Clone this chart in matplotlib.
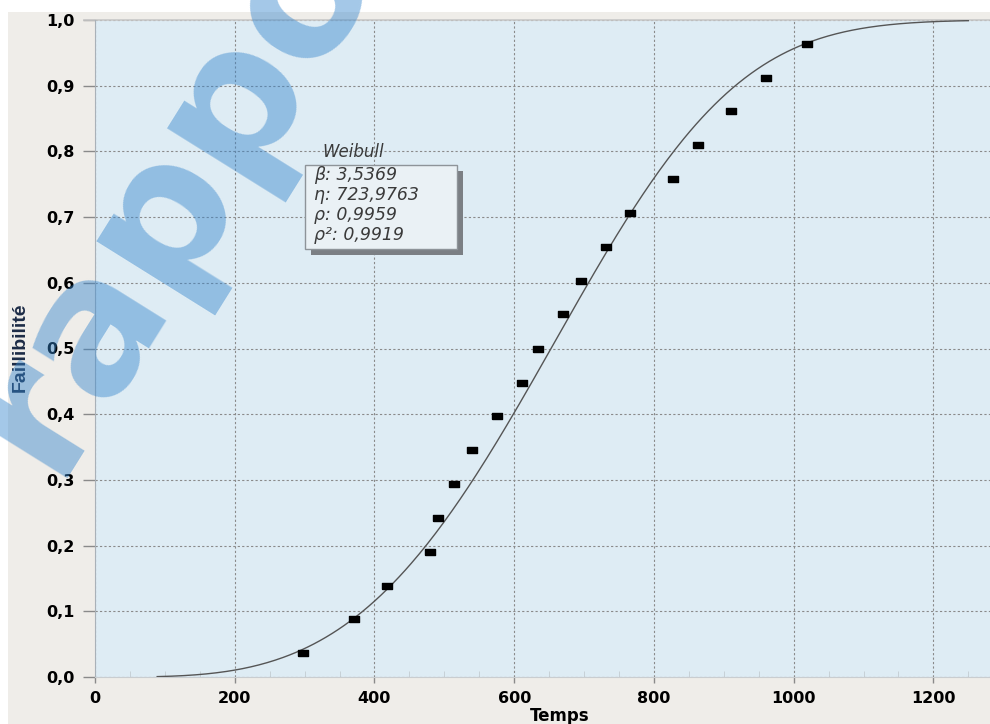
import numpy as np
import matplotlib
matplotlib.use("Agg")
import matplotlib.pyplot as plt
from matplotlib.patches import Rectangle
from matplotlib.ticker import MultipleLocator, FuncFormatter

# failure times and their median ranks
temps = [297, 370, 418, 479, 491, 514, 539, 575, 611, 634,
         670, 695, 731, 766, 827, 863, 911, 960, 1019]
faillibilite = [0.036, 0.088, 0.139, 0.191, 0.242, 0.294, 0.345, 0.397, 0.448, 0.500,
                0.552, 0.603, 0.655, 0.706, 0.758, 0.809, 0.861, 0.912, 0.964]

# fitted Weibull parameters
beta = 3.5369
eta = 723.9763
rho = 0.9959
rho2 = 0.9919

x_ticks = [0, 200, 400, 600, 800, 1000, 1200]
y_ticks = [0.0, 0.1, 0.2, 0.3, 0.4, 0.5, 0.6, 0.7, 0.8, 0.9, 1.0]

W, H = 990, 724
fig = plt.figure(figsize=(W / 100, H / 100), dpi=100)
fig.patch.set_facecolor("white")
fig.patches.append(Rectangle((8 / W, 0), 1, 1 - 12 / H, transform=fig.transFigure,
                             facecolor="#efede9", edgecolor="none", zorder=-10))

ax = fig.add_axes([95 / W, 47 / H, (W - 95) / W, 657 / H])
ax.set_facecolor("#deecf4")

t = np.linspace(89, 1250, 400)
F = 1 - np.exp(-(t / eta) ** beta)
ax.plot(t, F, color="#555555", lw=1.0, zorder=3)

rect = [(-1, -0.6), (1, -0.6), (1, 0.6), (-1, 0.6), (-1, -0.6)]
ax.plot(temps, faillibilite, ls="none", marker=rect, markersize=7,
        color="black", zorder=4)

ax.set_xlim(0, 1281)
ax.set_ylim(0, 1.0)
ax.set_xticks(x_ticks)
ax.set_yticks(y_ticks)
ax.xaxis.set_minor_locator(MultipleLocator(50))
ax.yaxis.set_major_formatter(FuncFormatter(lambda v, p: f"{v:.1f}".replace(".", ",")))

ax.grid(True, which="major", color="#8a8a8a", linestyle=(0, (2, 2)), linewidth=0.8)
ax.set_axisbelow(True)

for lab in ax.get_xticklabels() + ax.get_yticklabels():
    lab.set_fontweight("bold")
    lab.set_fontsize(11.5)
ax.tick_params(axis="y", length=9, width=1, color="#8a8a8a", pad=6)
ax.tick_params(axis="x", length=4, width=1, color="#8a8a8a", pad=6)
ax.tick_params(axis="x", which="minor", direction="in", length=4, color="#c3ccd2")

for side in ["top", "right"]:
    ax.spines[side].set_visible(False)
ax.spines["left"].set_color("#a9b1b8")
ax.spines["bottom"].set_color("#c9cdd0")
ax.plot([-0.012, 1], [1, 1], transform=ax.transAxes, clip_on=False,
        color="#c8c8c8", lw=1.2)

fig.text(560 / W, 1 - 716 / H, "Temps", fontsize=12, fontweight="bold",
         ha="center", va="center")
fig.text(20 / W, 1 - 347 / H, "Faillibilité", rotation=90, fontsize=14,
         fontweight="bold", color="#1c2b46", ha="center", va="center",
         family=["Liberation Sans", "DejaVu Sans"])

# annotation box with drop shadow
bx0, by0, bx1, by1 = 305, 165, 457, 249
fig.patches.append(Rectangle(((bx0 + 6) / W, 1 - (by1 + 6) / H), (bx1 - bx0) / W,
                             (by1 - by0) / H, transform=fig.transFigure,
                             facecolor="#7b7f84", edgecolor="none", zorder=5))
fig.patches.append(Rectangle((bx0 / W, 1 - by1 / H), (bx1 - bx0) / W,
                             (by1 - by0) / H, transform=fig.transFigure,
                             facecolor="#eaf1f5", edgecolor="#8e9499", lw=1, zorder=6))
fig.text(322 / W, 1 - 152 / H, "Weibull", fontsize=12, style="italic",
         color="#3a3a3a", va="center", zorder=7)
lines = [f"β: {beta:.4f}", f"η: {eta:.4f}", f"ρ: {rho:.4f}", f"ρ²: {rho2:.4f}"]
for i, s in enumerate(lines):
    fig.text(314 / W, 1 - (175 + 20 * i) / H, s.replace(".", ","), fontsize=12.5,
             style="italic", color="#3a3a3a", va="center", zorder=7)

# site watermark
fig.text(52 / W, 1 - 478 / H, "rapport", rotation=58, rotation_mode="anchor",
         ha="left", va="baseline", fontsize=134, fontweight="bold",
         color="#3585cc", alpha=0.45, zorder=20)

fig.savefig("out.png", dpi=100)
